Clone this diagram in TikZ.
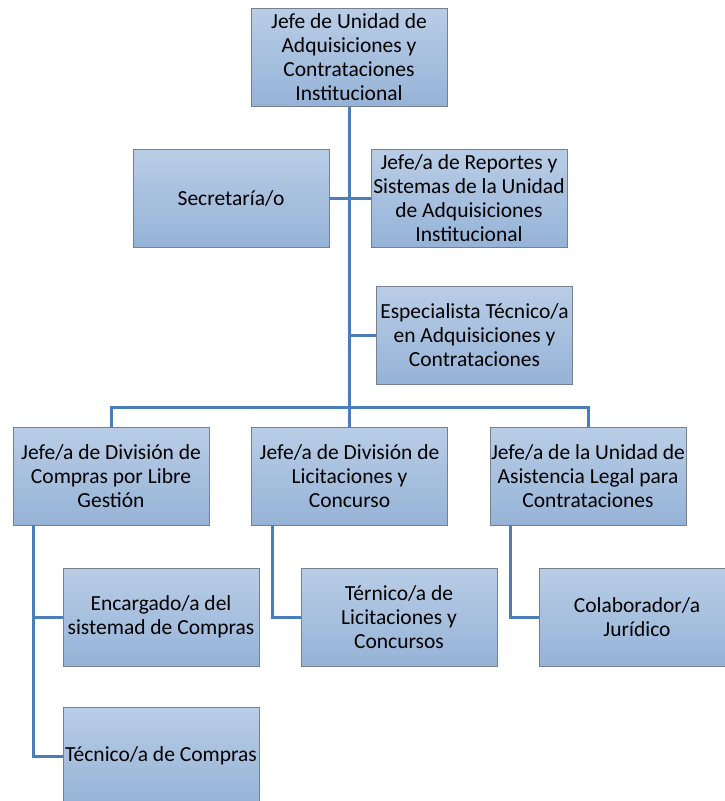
\documentclass[tikz,border=0pt]{standalone}
\usepackage{fontspec}
\setmainfont{Carlito}
\usetikzlibrary{calc}

\definecolor{cajaarriba}{RGB}{185,205,230}
\definecolor{cajaabajo}{RGB}{149,179,215}
\definecolor{cajaborde}{RGB}{118,128,142}
\definecolor{linea}{RGB}{74,126,187}

\begin{document}
\begin{tikzpicture}[
     x=1pt,y=1pt,
     puesto/.style={rectangle,draw=cajaborde,line width=0.9pt,
       top color=cajaarriba,bottom color=cajaabajo,
       minimum width=196pt,minimum height=98pt,inner sep=1pt,
       align=center,font=\fontsize{21.5}{24}\selectfont},
     enlace/.style={draw=linea,line width=3pt}
   ]
   \path[use as bounding box] (0,0) rectangle (724,-801);
   % Direction.
   \node[puesto] (jefe) at (349,-57.5) {Jefe de Unidad de\\Adquisiciones y\\Contrataciones\\Institucional};
   \node[puesto] (secre) at (231,-198) {Secretaría/o};
   \node[puesto] (repo) at (469,-198) {Jefe/a de Reportes y\\Sistemas de la Unidad\\de Adquisiciones\\Institucional};
   \node[puesto] (espe) at (474.5,-335) {Especialista Técnico/a\\en Adquisiciones y\\Contrataciones};
   % Divisions.
   \node[puesto] (compras) at (111,-476) {Jefe/a de División de\\Compras por Libre\\Gestión};
   \node[puesto] (licit) at (349.5,-476) {Jefe/a de División de\\Licitaciones y\\Concurso};
   \node[puesto] (legal) at (588,-476) {Jefe/a de la Unidad de\\Asistencia Legal para\\Contrataciones};
   % Staff.
   \node[puesto] (encar) at (161,-617) {Encargado/a del\\sistemad de Compras};
   \node[puesto] (tecco) at (161,-756) {Técnico/a de Compras};
   \node[puesto] (terni) at (399,-617) {Térnico/a de\\Licitaciones y\\Concursos};
   \node[puesto] (colab) at (637,-617) {Colaborador/a\\Jurídico};
   % Links.
   \coordinate (bus) at (349,-407);
   \path[enlace] (jefe.south) -- (bus);
   \path[enlace] (secre.east) -- (repo.west);
   \path[enlace] (espe.west) -- (espe.west -| jefe.south);
   \path[enlace] (compras.north) |- (bus) -| (legal.north);
   \path[enlace] (licit.north) -- (licit.north |- bus);
   \path[enlace] ([xshift=21pt]compras.south west) |- (encar.west);
   \path[enlace] ([xshift=21pt]compras.south west) |- (tecco.west);
   \path[enlace] ([xshift=21pt]licit.south west) |- (terni.west);
   \path[enlace] ([xshift=21pt]legal.south west) |- (colab.west);
 \end{tikzpicture}
\end{document}
